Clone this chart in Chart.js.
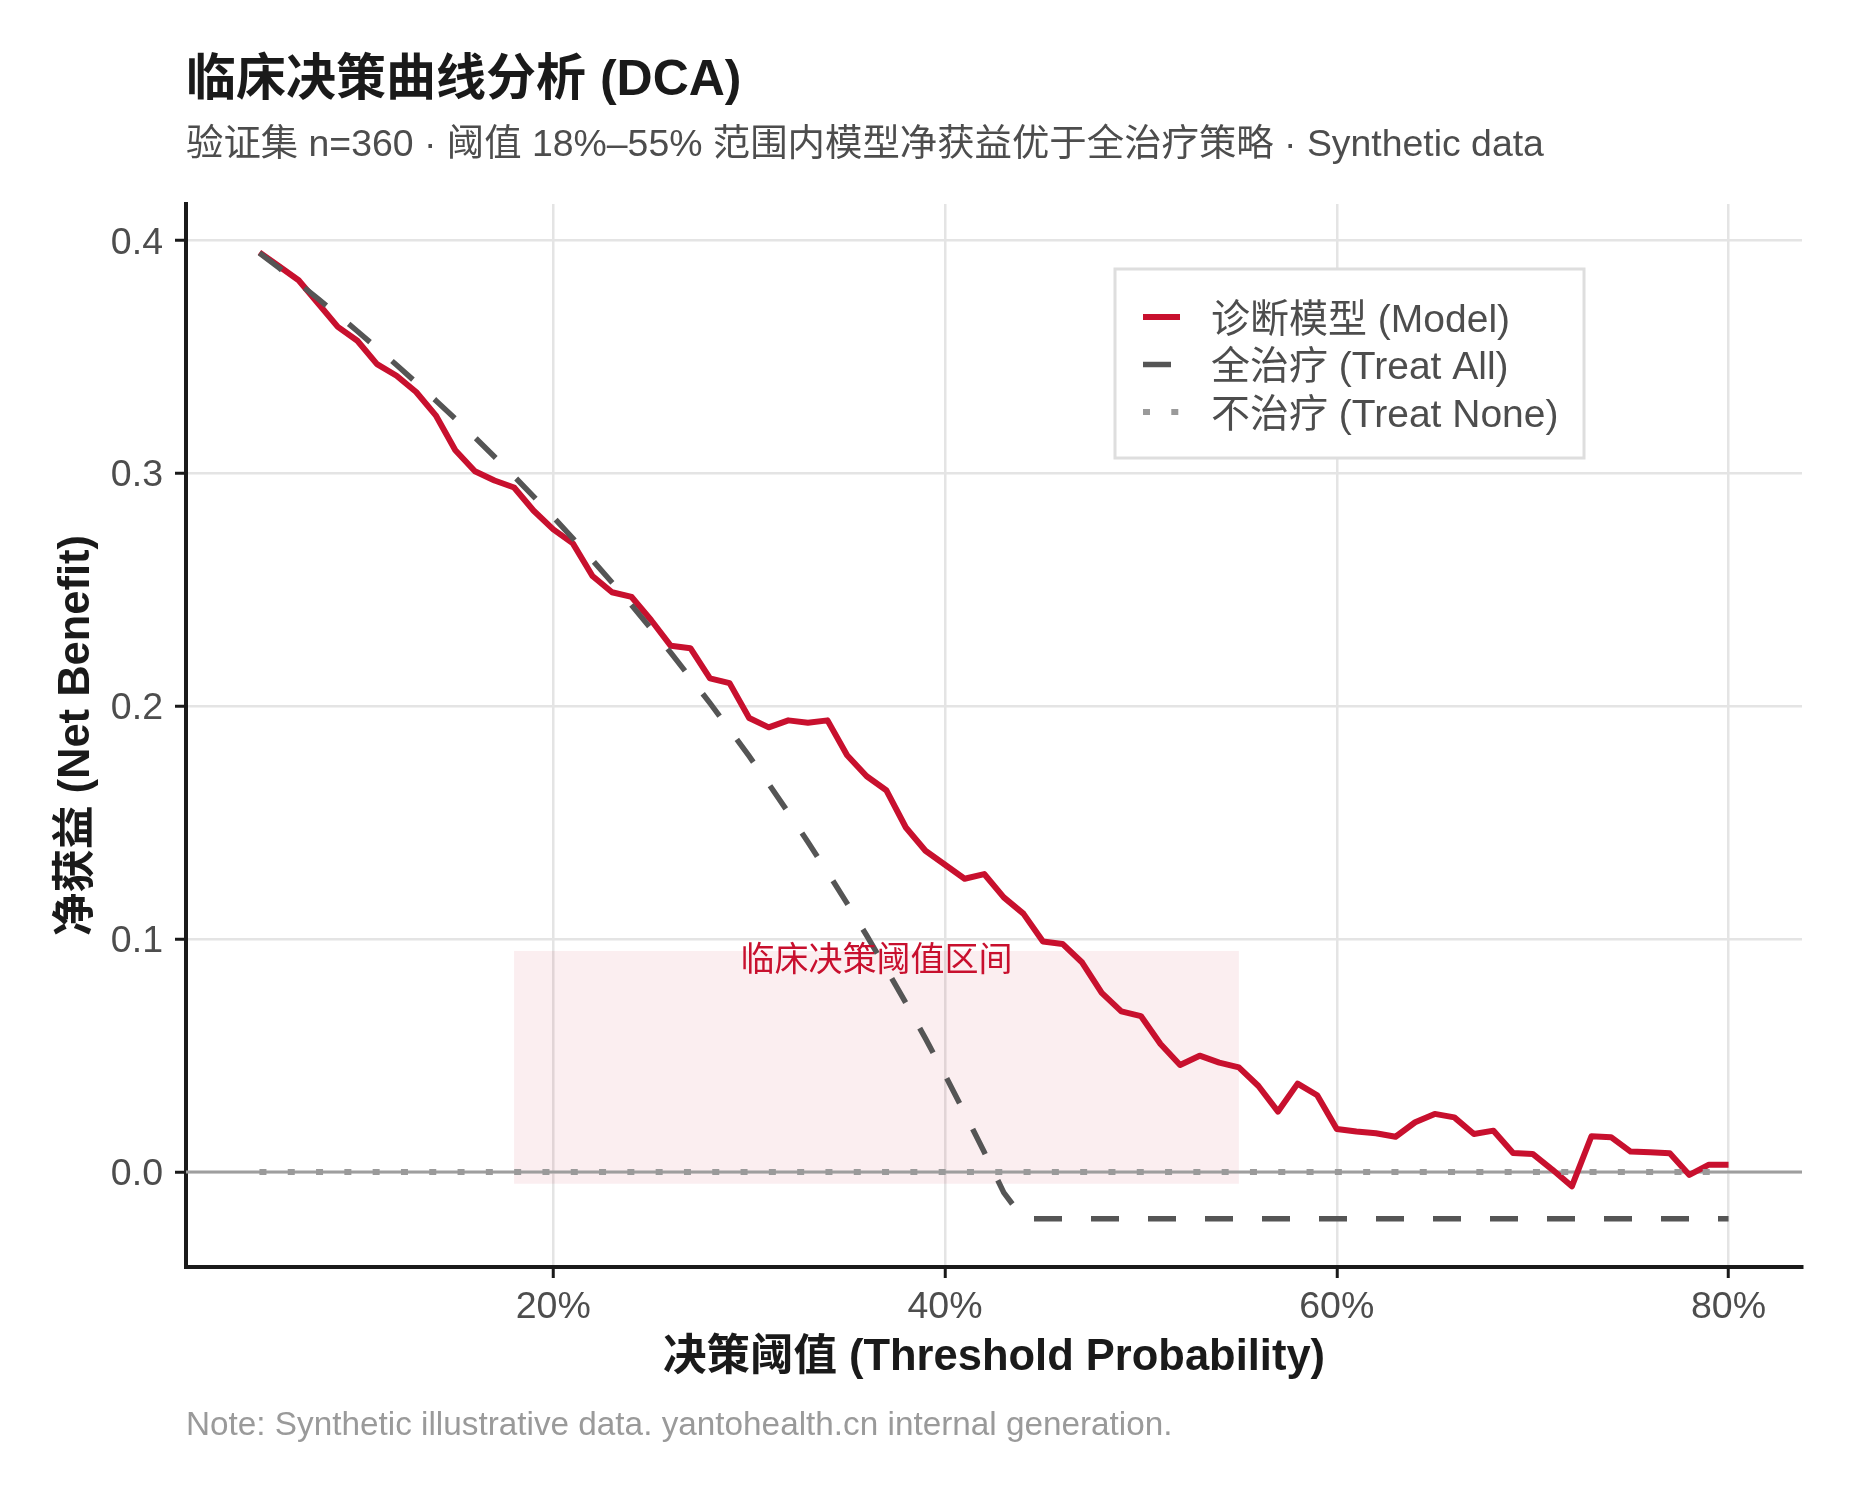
<!DOCTYPE html>
<html lang="zh-CN">
<head>
<meta charset="UTF-8">
<title>临床决策曲线分析 (DCA)</title>
<script src="https://cdn.jsdelivr.net/npm/chart.js@4.4.1/dist/chart.umd.min.js"></script>
<style>
    html, body { margin: 0; padding: 0; background: #ffffff; }
    #wrap { width: 1860px; height: 1500px; }
</style>
</head>
<body>
<div id="wrap"><canvas id="dcaChart" width="1860" height="1500"></canvas></div>
<script>
/* =====================
   DATA
===================== */
const thresholds = [
    5, 6, 7, 8, 9, 10, 11, 12, 13, 14, 15, 16, 17, 18, 19, 20, 21, 22, 23, 24,
    25, 26, 27, 28, 29, 30, 31, 32, 33, 34, 35, 36, 37, 38, 39, 40, 41, 42, 43, 44,
    45, 46, 47, 48, 49, 50, 51, 52, 53, 54, 55, 56, 57, 58, 59, 60, 61, 62, 63, 64,
    65, 66, 67, 68, 69, 70, 71, 72, 73, 74, 75, 76, 77, 78, 79, 80
];

const modelNB = [
    0.395, 0.389, 0.383, 0.373, 0.363, 0.357, 0.347, 0.342, 0.335, 0.325,
    0.310, 0.301, 0.297, 0.294, 0.284, 0.276, 0.270, 0.256, 0.249, 0.247,
    0.237, 0.226, 0.225, 0.212, 0.210, 0.195, 0.191, 0.194, 0.193, 0.194,
    0.179, 0.170, 0.164, 0.148, 0.138, 0.132, 0.126, 0.128, 0.118, 0.111,
    0.099, 0.098, 0.090, 0.077, 0.069, 0.067, 0.055, 0.046, 0.050, 0.047,
    0.045, 0.037, 0.026, 0.038, 0.033, 0.0185, 0.0174, 0.0167, 0.0152, 0.0214,
    0.025, 0.0235, 0.0164, 0.0178, 0.0082, 0.0078, 0.0011, -0.0061, 0.0154, 0.015,
    0.0088, 0.0085, 0.0081, -0.0012, 0.0032, 0.0032
];

const treatAllNB = [
    0.3947, 0.3883, 0.3817, 0.375, 0.3681, 0.3611, 0.3539, 0.3466, 0.3391, 0.3314,
    0.3235, 0.3155, 0.3072, 0.2988, 0.2901, 0.2813, 0.2722, 0.2628, 0.2532, 0.2434,
    0.2333, 0.2230, 0.2123, 0.2014, 0.1901, 0.1786, 0.1667, 0.1544, 0.1418, 0.1288,
    0.1154, 0.1016, 0.0873, 0.0726, 0.0574, 0.0417, 0.0254, 0.0086, -0.0088, -0.02,
    -0.02, -0.02, -0.02, -0.02, -0.02, -0.02, -0.02, -0.02, -0.02, -0.02,
    -0.02, -0.02, -0.02, -0.02, -0.02, -0.02, -0.02, -0.02, -0.02, -0.02,
    -0.02, -0.02, -0.02, -0.02, -0.02, -0.02, -0.02, -0.02, -0.02, -0.02,
    -0.02, -0.02, -0.02, -0.02, -0.02, -0.02
];

const treatNoneNB = [
    0, 0, 0, 0, 0, 0, 0, 0, 0, 0, 0, 0, 0, 0, 0, 0, 0, 0, 0, 0,
    0, 0, 0, 0, 0, 0, 0, 0, 0, 0, 0, 0, 0, 0, 0, 0, 0, 0, 0, 0,
    0, 0, 0, 0, 0, 0, 0, 0, 0, 0, 0, 0, 0, 0, 0, 0, 0, 0, 0, 0,
    0, 0, 0, 0, 0, 0, 0, 0, 0, 0, 0, 0, 0, 0, 0, 0
];

const xTickValues = [20, 40, 60, 80];
const yTickValues = [0, 0.1, 0.2, 0.3, 0.4];
const xLimits = [1.25, 83.75];
const yLimits = [-0.04075, 0.41575];

const bandX = [18, 55];
const bandY = [-0.005, 0.095];
const bandLabelY = 0.0905;

const seriesLabels = ['诊断模型 (Model)', '全治疗 (Treat All)', '不治疗 (Treat None)'];

const TITLE = '临床决策曲线分析 (DCA)';
const SUBTITLE = '验证集 n=360 · 阈值 18%–55% 范围内模型净获益优于全治疗策略 · Synthetic data';
const CAPTION = 'Note: Synthetic illustrative data. yantohealth.cn internal generation.';
const BAND_LABEL = '临床决策阈值区间';

/* =====================
   STYLE
===================== */
const FONT = '"Liberation Sans", "Noto Sans CJK SC", sans-serif';
const RED = '#c8102e';
const DARK = '#555555';
const NONE_GREY = '#9a9a9a';
const INK = '#1a1a1a';
const TICK_INK = '#4d4d4d';
const GRID = '#e4e4e4';

Chart.defaults.font.family = FONT;

const toPoints = (ys) => thresholds.map((t, i) => ({ x: t, y: ys[i] }));

/* =====================
   DECORATIONS
===================== */
const decor = {
    id: 'decor',
    beforeDatasetsDraw(chart) {
        const { ctx, chartArea, scales: { x, y } } = chart;
        ctx.save();
        // band
        ctx.fillStyle = 'rgba(200,16,46,0.07)';
        const bx0 = x.getPixelForValue(bandX[0]);
        const bx1 = x.getPixelForValue(bandX[1]);
        const by0 = y.getPixelForValue(bandY[1]);
        const by1 = y.getPixelForValue(bandY[0]);
        ctx.fillRect(bx0, by0, bx1 - bx0, by1 - by0);
        // zero reference line
        ctx.strokeStyle = '#9e9e9e';
        ctx.lineWidth = 3;
        const y0 = y.getPixelForValue(0);
        ctx.beginPath();
        ctx.moveTo(chartArea.left, y0);
        ctx.lineTo(chartArea.right, y0);
        ctx.stroke();
        ctx.restore();
    },
    afterDatasetsDraw(chart) {
        const { ctx, scales: { x, y } } = chart;
        ctx.save();
        ctx.fillStyle = RED;
        ctx.font = '34px ' + FONT;
        ctx.textAlign = 'center';
        ctx.textBaseline = 'middle';
        ctx.fillText(BAND_LABEL, x.getPixelForValue((bandX[0] + bandX[1]) / 2), y.getPixelForValue(bandLabelY));
        ctx.restore();
    },
    afterDraw(chart) {
        const { ctx, chartArea } = chart;
        ctx.save();
        ctx.textAlign = 'left';
        ctx.textBaseline = 'middle';

        ctx.fillStyle = INK;
        ctx.font = 'bold 50px ' + FONT;
        ctx.fillText(TITLE, chartArea.left, 81);

        ctx.fillStyle = TICK_INK;
        ctx.font = '37.4px ' + FONT;
        ctx.fillText(SUBTITLE, chartArea.left, 146);

        ctx.fillStyle = '#9a9a9a';
        ctx.font = '33.3px ' + FONT;
        ctx.fillText(CAPTION, chartArea.left, 1426);

        // legend
        const lx = chartArea.left + 929;
        const ly = chartArea.top + 65;
        const lw = 469;
        const lh = 189;
        ctx.fillStyle = '#ffffff';
        ctx.fillRect(lx, ly, lw, lh);
        ctx.strokeStyle = '#dedede';
        ctx.lineWidth = 3;
        ctx.strokeRect(lx, ly, lw, lh);

        ctx.font = '39px ' + FONT;
        chart.data.datasets.forEach((ds, i) => {
            const ry = ly + 48 + i * 47.5;
            ctx.save();
            ctx.strokeStyle = ds.borderColor;
            ctx.lineWidth = ds.borderWidth;
            ctx.lineCap = 'butt';
            ctx.setLineDash(ds.borderDash || []);
            ctx.beginPath();
            ctx.moveTo(lx + 28, ry);
            ctx.lineTo(lx + 65, ry);
            ctx.stroke();
            ctx.restore();
            ctx.fillStyle = TICK_INK;
            ctx.fillText(ds.label, lx + 96, ry + 4);
        });
        ctx.restore();
    },
};

/* =====================
   CHART
===================== */
new Chart(document.getElementById('dcaChart'), {
    type: 'line',
    data: {
        datasets: [
            {
                label: seriesLabels[0],
                data: toPoints(modelNB),
                borderColor: RED,
                borderWidth: 6,
                borderDash: [],
                borderJoinStyle: 'round',
                pointRadius: 0,
                tension: 0,
                order: 3,
            },
            {
                label: seriesLabels[1],
                data: toPoints(treatAllNB),
                borderColor: DARK,
                borderWidth: 5.5,
                borderDash: [28, 29],
                borderCapStyle: 'butt',
                pointRadius: 0,
                tension: 0,
                order: 2,
            },
            {
                label: seriesLabels[2],
                data: toPoints(treatNoneNB),
                borderColor: NONE_GREY,
                borderWidth: 6,
                borderDash: [7, 21.3],
                borderCapStyle: 'butt',
                pointRadius: 0,
                tension: 0,
                order: 1,
            },
        ],
    },
    options: {
        responsive: false,
        animation: false,
        devicePixelRatio: 1,
        layout: { padding: { top: 204, right: 58, bottom: 0, left: 0 } },
        plugins: {
            legend: { display: false },
            tooltip: { enabled: false },
        },
        scales: {
            x: {
                type: 'linear',
                min: xLimits[0],
                max: xLimits[1],
                afterBuildTicks: (s) => { s.ticks = xTickValues.map((v) => ({ value: v })); },
                afterFit: (s) => { s.height = 233; },
                ticks: {
                    callback: (v) => v + '%',
                    color: TICK_INK,
                    font: { size: 37.5 },
                    padding: 7,
                    maxRotation: 0,
                    autoSkip: false,
                },
                grid: { color: GRID, lineWidth: 2.5, tickColor: INK, tickLength: 11, tickWidth: 3 },
                border: { color: INK, width: 4 },
                title: {
                    display: true,
                    text: '决策阈值 (Threshold Probability)',
                    color: INK,
                    font: { size: 43.5, weight: 'bold' },
                    padding: { top: 0, bottom: 116 },
                },
            },
            y: {
                type: 'linear',
                min: yLimits[0],
                max: yLimits[1],
                afterBuildTicks: (s) => { s.ticks = yTickValues.map((v) => ({ value: v })); },
                afterFit: (s) => { s.width = 186; },
                ticks: {
                    callback: (v) => v.toFixed(1),
                    color: TICK_INK,
                    font: { size: 37.5 },
                    padding: 12,
                    labelOffset: 2.5,
                },
                grid: { color: GRID, lineWidth: 2.5, tickColor: INK, tickLength: 11, tickWidth: 3 },
                border: { color: INK, width: 4 },
                title: {
                    display: true,
                    text: '净获益 (Net Benefit)',
                    color: INK,
                    font: { size: 43.5, weight: 'bold' },
                    padding: { top: 51, bottom: 0 },
                },
            },
        },
    },
    plugins: [decor],
});
</script>
</body>
</html>
